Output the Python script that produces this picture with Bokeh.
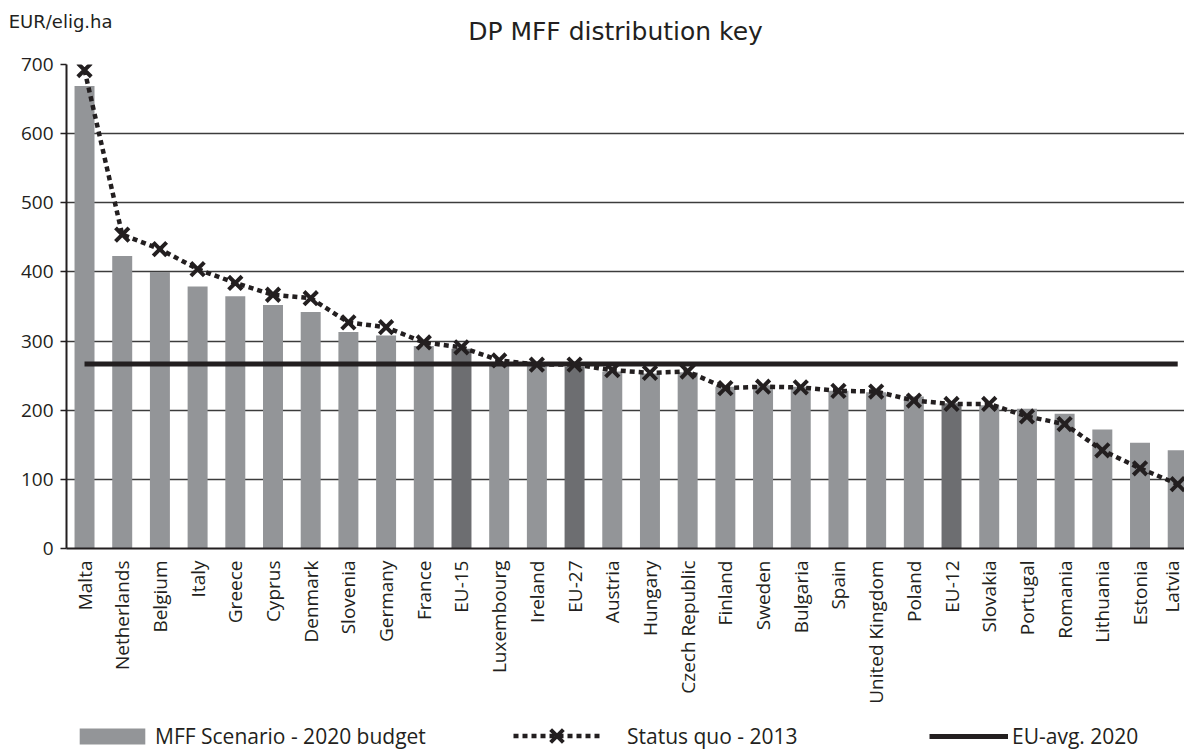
import math
from bokeh.plotting import figure
from bokeh.layouts import column
from bokeh.models import ColumnDataSource, Range1d, FixedTicker, Legend, LegendItem, Label
from bokeh.embed import file_html
from bokeh.resources import INLINE

# ---------------- data ----------------
categories = ["Malta", "Netherlands", "Belgium", "Italy", "Greece", "Cyprus", "Denmark",
              "Slovenia", "Germany", "France", "EU-15", "Luxembourg", "Ireland", "EU-27",
              "Austria", "Hungary", "Czech Republic", "Finland", "Sweden", "Bulgaria", "Spain",
              "United Kingdom", "Poland", "EU-12", "Slovakia", "Portugal", "Romania",
              "Lithuania", "Estonia", "Latvia"]
mff_2020 = [669, 423, 400, 379, 365, 352, 342, 313, 308, 293, 289, 270, 264, 263,
            256, 253, 255, 234, 236, 234, 228, 226, 220, 210, 207, 202, 195, 172, 153, 142]
status_quo_2013 = [692, 454, 433, 404, 384, 367, 362, 327, 320, 298, 291, 272, 266, 266,
                   258, 254, 256, 232, 234, 233, 228, 227, 214, 209, 209, 191, 180, 142, 116, 93]
eu_avg_2020 = 267
y_ticks = [0, 100, 200, 300, 400, 500, 600, 700]

title_text = "DP MFF distribution key"
unit_text = "EUR/elig.ha"
legend_labels = ["MFF Scenario - 2020 budget", "Status quo - 2013", "EU-avg. 2020"]

# ---------------- styles ----------------
LIGHT = "#939598"
DARK = "#6d6e71"
INK = "#231f20"
W = 1184
LEFT = 66
HEAD_H = 52
idx = list(range(len(categories)))
colors = [DARK if c.startswith("EU-") else LIGHT for c in categories]

src = ColumnDataSource(dict(x=idx, cat=categories, mff=mff_2020, sq=status_quo_2013,
                            avg=[eu_avg_2020] * len(categories), color=colors))

# ---------------- header strip ----------------
head = figure(width=W, height=HEAD_H, x_range=Range1d(0, 1), y_range=Range1d(0, HEAD_H),
              output_backend="svg", toolbar_location=None, x_axis_location=None,
              min_border_left=LEFT, min_border_right=0, min_border_top=0, min_border_bottom=0)
head.outline_line_color = None
head.grid.visible = False
head.background_fill_color = "white"
head.border_fill_color = "white"
# unit note drawn as the strip's single left-axis label (pushed rightwards past the axis)
unit_pos = HEAD_H - 21
head.yaxis.ticker = FixedTicker(ticks=[unit_pos])
head.yaxis.major_label_overrides = {unit_pos: unit_text}
head.yaxis.axis_line_color = None
head.yaxis.major_tick_line_color = None
head.yaxis.minor_tick_line_color = None
head.yaxis.major_tick_out = 0
head.yaxis.major_tick_in = 0
head.yaxis.major_label_standoff = -46
head.yaxis.major_label_text_font = "DejaVu Sans"
head.yaxis.major_label_text_font_size = "18px"
head.yaxis.major_label_text_color = INK
head.add_layout(Label(x=615 - LEFT, y=HEAD_H - 31, x_units="screen", y_units="screen",
                      text=title_text, text_font="DejaVu Sans", text_font_size="25px",
                      text_align="center", text_baseline="alphabetic", text_color=INK))

# ---------------- main chart ----------------
p = figure(width=W, height=749 - HEAD_H - 37, x_range=Range1d(-0.478, 29.18),
           y_range=Range1d(0, 700), output_backend="svg", toolbar_location=None,
           min_border_left=LEFT, min_border_right=0, min_border_top=64 - HEAD_H,
           min_border_bottom=164)
p.outline_line_color = None
p.background_fill_color = "white"
p.border_fill_color = "white"

p.vbar(x="x", top="mff", width=0.53, fill_color="color", line_color=None, source=src)
p.line(x="x", y="avg", line_color=INK, line_width=5, source=src)
p.line(x="x", y="sq", line_color=INK, line_width=4.5, line_dash="5 4", source=src)
p.scatter(x="x", y="sq", marker="x", size=19, line_color=INK, line_width=4, source=src)

p.yaxis.ticker = FixedTicker(ticks=y_ticks)
p.yaxis.axis_line_color = INK
p.yaxis.axis_line_width = 2
p.yaxis.major_tick_out = 6
p.yaxis.major_tick_in = 0
p.yaxis.minor_tick_out = 0
p.yaxis.minor_tick_in = 0
p.yaxis.major_tick_line_color = INK
p.yaxis.major_tick_line_width = 1.5
p.yaxis.major_label_standoff = 7
p.yaxis.major_label_text_font = "Open Sans"
p.yaxis.major_label_text_font_size = "19px"
p.yaxis.major_label_text_color = INK

p.xaxis.ticker = FixedTicker(ticks=idx)
p.xaxis.major_label_overrides = {i: c for i, c in enumerate(categories)}
p.xaxis.major_label_orientation = math.pi / 2
p.xaxis.major_tick_out = 0
p.xaxis.major_tick_in = 0
p.xaxis.minor_tick_out = 0
p.xaxis.minor_tick_in = 0
p.xaxis.axis_line_color = INK
p.xaxis.axis_line_width = 2
p.xaxis.major_label_standoff = 12
p.xaxis.major_label_text_font = "Open Sans"
p.xaxis.major_label_text_font_size = "19px"
p.xaxis.major_label_text_color = INK

p.xgrid.visible = False
p.ygrid.grid_line_color = "#3c3c3c"
p.ygrid.grid_line_width = 1.6

# ---------------- legend strip ----------------
foot = figure(width=W, height=37, x_range=Range1d(-200, -199), y_range=Range1d(-200, -199),
              output_backend="svg", toolbar_location=None,
              x_axis_location=None, y_axis_location=None,
              min_border_left=LEFT, min_border_right=0, min_border_top=0, min_border_bottom=0)
foot.outline_line_color = None
foot.grid.visible = False
foot.background_fill_color = "white"
foot.border_fill_color = "white"

# legend swatches share the chart's styles (their data lie outside this strip's ranges)
r_bar = foot.vbar(x="x", top="mff", width=0.53, fill_color=LIGHT, line_color=None, source=src)
r_sq_line = foot.line(x="x", y="sq", line_color=INK, line_width=4.5, line_dash="5 4", source=src)
r_sq_pts = foot.scatter(x="x", y="sq", marker="x", size=19, line_color=INK, line_width=4, source=src)
r_avg = foot.line(x="x", y="avg", line_color=INK, line_width=5, source=src)


def mk_legend(label, renderers, page_x, vy, gw, gh, standoff):
    item = LegendItem(label=label, renderers=renderers, index=0)
    return Legend(items=[item], location=(page_x - LEFT, vy), orientation="horizontal",
                  glyph_width=gw, glyph_height=gh, label_height=20, label_standoff=standoff,
                  padding=0, margin=0, border_line_color=None, background_fill_alpha=0,
                  label_text_font="Open Sans", label_text_font_size="21px",
                  label_text_color=INK)


foot.add_layout(mk_legend(legend_labels[0], [r_bar], 71, -1, 82, 20, 2))
foot.add_layout(mk_legend(legend_labels[1], [r_sq_line, r_sq_pts], 513, -9, 87, 45, 27))
foot.add_layout(mk_legend(legend_labels[2], [r_avg], 929, -1, 79, 20, 4))

page = column(head, p, foot, spacing=0)
open("out.html", "w").write(file_html(page, INLINE))
